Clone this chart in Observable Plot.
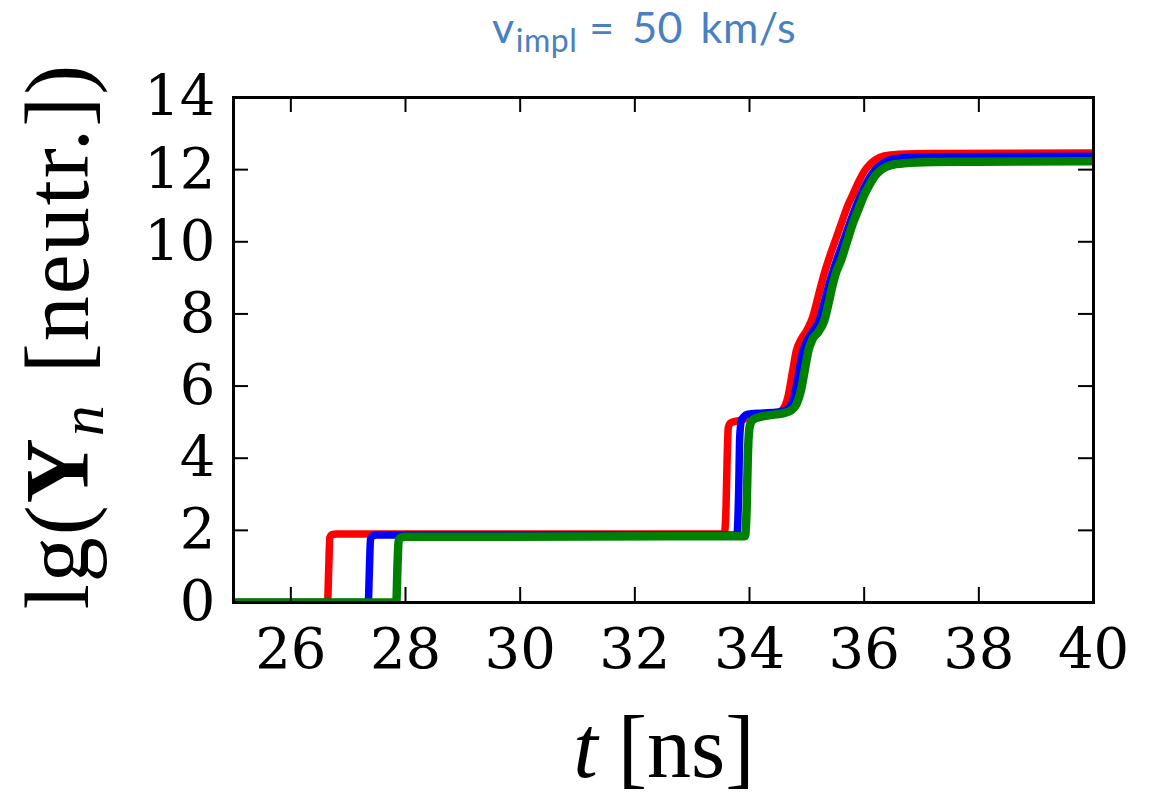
<!DOCTYPE html>
<html>
<head>
<meta charset="utf-8">
<script src="https://cdn.jsdelivr.net/npm/d3@7"></script>
<script src="https://cdn.jsdelivr.net/npm/@observablehq/plot@0.6"></script>
<style>
  html, body { margin: 0; padding: 0; background: #fff; }
  #wrap { width: 1160px; height: 799px; position: relative; overflow: hidden; }
  #title { height: 60px; width: 1160px; position: relative; font-family: Lato, "Open Sans", sans-serif; color: #4a7fc1; font-size: 43px; }
  #title span.t { position: absolute; left: 492px; top: 5px; line-height: 43px; white-space: nowrap; letter-spacing: 0.5px; word-spacing: 6px; }
  #title sub { font-size: 32px; vertical-align: -9px; line-height: 0; margin-left: 1px; margin-right: 12px; }
  svg { display: block; }
</style>
</head>
<body>
<div id="wrap">
  <div id="title"><span class="t">v<sub>impl</sub>= 50 km/s</span></div>
  <div id="chart"></div>
</div>
<script>
// ---- data ----
const xTicks = [26, 28, 30, 32, 34, 36, 38, 40];
const yTicks = [0, 2, 4, 6, 8, 10, 12, 14];

const redT = [25, 26.64, 26.66, 26.68, 26.72, 26.8, 33.56, 33.59, 33.61, 33.63, 33.67, 33.75, 33.9, 34.0, 34.2, 34.45, 34.58, 34.67, 34.75, 34.82, 34.9, 35.0, 35.1, 35.2, 35.3, 35.4, 35.5, 35.6, 35.7, 35.8, 35.9, 36.0, 36.1, 36.2, 36.35, 36.6, 37.2, 40];
const redY = [0, 0, 0.9, 1.8, 1.88, 1.9, 1.9, 2.6, 4.0, 4.85, 4.98, 5.02, 5.08, 5.15, 5.2, 5.22, 5.35, 5.7, 6.4, 7.0, 7.3, 7.55, 7.9, 8.5, 9.1, 9.6, 10.05, 10.5, 10.95, 11.3, 11.65, 11.95, 12.15, 12.28, 12.38, 12.43, 12.45, 12.46];

const blueT = [25, 27.35, 27.37, 27.39, 27.43, 27.5, 33.78, 33.81, 33.83, 33.86, 33.9, 33.97, 34.2, 34.5, 34.65, 34.76, 34.84, 34.92, 35.0, 35.1, 35.2, 35.3, 35.4, 35.5, 35.6, 35.7, 35.8, 35.9, 36.0, 36.1, 36.2, 36.3, 36.45, 36.7, 37.2, 40];
const blueY = [0, 0, 0.9, 1.75, 1.85, 1.87, 1.87, 3.0, 4.6, 5.05, 5.15, 5.22, 5.25, 5.28, 5.35, 5.6, 6.2, 6.9, 7.25, 7.5, 7.75, 8.3, 8.9, 9.4, 9.85, 10.3, 10.75, 11.15, 11.5, 11.8, 12.02, 12.15, 12.27, 12.33, 12.36, 12.37];

const greenT = [25, 27.84, 27.86, 27.88, 27.92, 28.0, 33.92, 33.95, 33.97, 34.0, 34.05, 34.15, 34.4, 34.6, 34.72, 34.82, 34.9, 34.97, 35.03, 35.1, 35.2, 35.3, 35.38, 35.45, 35.5, 35.6, 35.7, 35.8, 35.9, 36.0, 36.1, 36.2, 36.3, 36.45, 36.7, 37.2, 38, 40];
const greenY = [0, 0, 1.0, 1.7, 1.8, 1.82, 1.84, 2.6, 4.0, 4.85, 5.05, 5.13, 5.2, 5.25, 5.32, 5.5, 5.9, 6.5, 7.0, 7.3, 7.5, 7.8, 8.3, 8.8, 9.1, 9.5, 10.0, 10.5, 10.9, 11.3, 11.6, 11.85, 12.0, 12.12, 12.18, 12.21, 12.22, 12.23];

const seriesNames = ["red", "blue", "green"];
const seriesColors = ["#ff0000", "#0000ff", "#008000"];

// ---- build rows ----
const toRows = (T, Y) => T.map((t, i) => ({t, y: Y[i]}));
const rows = [toRows(redT, redY), toRows(blueT, blueY), toRows(greenT, greenY)];

const W = 1160, H = 739;
const mL = 233, mR = 67, mT = 37, mB = 197;
const plotH = H - mT - mB, plotW = W - mL - mR;
const tickLen = 15;

const serif = "'DejaVu Serif', serif";

const chart = Plot.plot({
  width: W, height: H,
  marginLeft: mL, marginRight: mR, marginTop: mT, marginBottom: mB,
  style: {background: "#fff", fontFamily: serif, fontSize: "56px", color: "#000", overflow: "visible"},
  x: {domain: [25, 40], ticks: xTicks},
  y: {domain: [0, 14], ticks: yTicks},
  marks: [
    ...rows.map((r, i) => Plot.line(r, {
      x: "t", y: "y", stroke: seriesColors[i], strokeWidth: i === 2 ? 8.5 : 7.5,
      curve: "monotone-x", strokeLinejoin: "round", strokeLinecap: "butt", clip: true
    })),
    // inward ticks on all four sides
    Plot.tickX(xTicks, {x: d => d, insetTop: plotH - tickLen, stroke: "#000", strokeWidth: 2}),
    Plot.tickX(xTicks, {x: d => d, insetBottom: plotH - tickLen, stroke: "#000", strokeWidth: 2}),
    Plot.tickY(yTicks, {y: d => d, insetRight: plotW - tickLen, stroke: "#000", strokeWidth: 2}),
    Plot.tickY(yTicks, {y: d => d, insetLeft: plotW - tickLen, stroke: "#000", strokeWidth: 2}),
    Plot.axisX({ticks: xTicks, tickSize: 0, tickPadding: 26, label: null, fontSize: 56, fontFamily: serif}),
    Plot.axisY({ticks: yTicks, tickSize: 0, tickPadding: 18, label: null, fontSize: 56, fontFamily: serif}),
    Plot.frame({stroke: "#000", strokeWidth: 3})
  ]
});

document.getElementById("chart").appendChild(chart);

// ---- axis titles (mixed-style LaTeX-like text) ----
const svg = d3.select(chart);
const latex = "'Liberation Serif', 'DejaVu Serif', serif";

const yl = svg.append("text")
  .attr("transform", "translate(88," + (336 - 60) + ") rotate(-90)")
  .attr("text-anchor", "middle")
  .attr("font-family", latex)
  .attr("font-size", 90)
  .attr("letter-spacing", 2)
  .attr("fill", "#000");
yl.append("tspan").text("lg(");
yl.append("tspan").attr("font-weight", "bold").text("Y");
yl.append("tspan").attr("font-style", "italic").attr("font-size", 62).attr("dy", 15).text("n");
yl.append("tspan").attr("dy", -15).attr("dx", 30).text("[neutr.])");

const xl = svg.append("text")
  .attr("x", 664).attr("y", 777 - 60)
  .attr("text-anchor", "middle")
  .attr("font-family", latex)
  .attr("font-size", 88)
  .attr("fill", "#000");
xl.append("tspan").attr("font-style", "italic").text("t");
xl.append("tspan").attr("dx", 20).text("[ns]");
</script>
</body>
</html>
